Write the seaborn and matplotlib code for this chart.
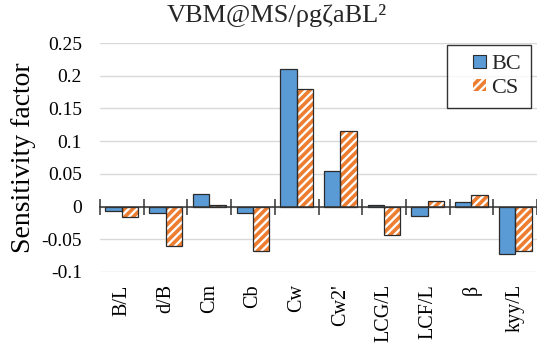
import matplotlib
matplotlib.use("Agg")
import matplotlib.pyplot as plt
import seaborn as sns
import pandas as pd
import numpy as np
from matplotlib.patches import Patch, Rectangle
from matplotlib.legend_handler import HandlerPatch
from matplotlib.ticker import FixedLocator

categories = ["B/L", "d/B", "Cm", "Cb", "Cw", "Cw2'", "LCG/L", "LCF/L", "β", "kyy/L"]
bc_values = [-0.007, -0.010, 0.019, -0.010, 0.210, 0.055, 0.003, -0.015, 0.007, -0.072]
cs_values = [-0.016, -0.060, 0.003, -0.068, 0.180, 0.115, -0.043, 0.009, 0.017, -0.068]
series = ["BC", "CS"]
y_ticks = [-0.1, -0.05, 0, 0.05, 0.1, 0.15, 0.2, 0.25]
y_ticklabels = ["-0.1", "-0.05", "0", "0.05", "0.1", "0.15", "0.2", "0.25"]

df = pd.DataFrame({
    "param": categories * 2,
    "series": [series[0]] * len(categories) + [series[1]] * len(categories),
    "value": bc_values + cs_values,
})

sns.set_theme(style="white")
plt.rcParams["font.family"] = ["Liberation Serif", "DejaVu Serif"]
plt.rcParams["hatch.linewidth"] = 2.6

BLUE = "#5B9BD5"
ORANGE = "#ED7D31"
EDGE = "#2b2b2b"
AXIS = "#333333"

fig = plt.figure(figsize=(5.37, 3.51), dpi=100)
ax = fig.add_axes([100 / 537, 1 - 272 / 351, 437 / 537, 229 / 351])

# fills: solid blue for BC, orange diagonal stripes on white for CS
sns.barplot(data=df, x="param", y="value", hue="series", order=categories,
            hue_order=series, palette=[BLUE, "white"], width=0.75,
            errorbar=None, ax=ax, legend=False, linewidth=0, saturation=1)
n = len(categories)
for i, p in enumerate(ax.patches[:2 * n]):
    if i >= n:
        p.set_facecolor("white")
        p.set_edgecolor(ORANGE)
        p.set_hatch("////")
        p.set_linewidth(0)

# outlines on top
sns.barplot(data=df, x="param", y="value", hue="series", order=categories,
            hue_order=series, palette=["none", "none"], width=0.75,
            errorbar=None, ax=ax, legend=False, saturation=1,
            edgecolor=EDGE, linewidth=0.9, fill=False)

ax.set_ylim(-0.1, 0.25)
ax.set_xlim(-0.5, n - 0.5)
ax.set_yticks(y_ticks)
ax.set_yticklabels(y_ticklabels)
ax.yaxis.grid(True, color="#d9d9d9", linewidth=1)
ax.xaxis.grid(False)
# gridlines under the bars, category axis over them
ax.yaxis.set_zorder(0.5)
ax.xaxis.set_zorder(6)
for s in ["top", "left", "right"]:
    ax.spines[s].set_visible(False)

# category axis runs along zero; boundary ticks cross it, names sit below the plot
ax.spines["bottom"].set_position(("data", 0))
ax.spines["bottom"].set_visible(True)
ax.spines["bottom"].set_color(AXIS)
ax.spines["bottom"].set_linewidth(1.1)
ax.spines["bottom"].set_zorder(6)
ax.xaxis.set_minor_locator(FixedLocator(np.arange(-0.5, n, 1.0)))
ax.tick_params(axis="x", which="minor", direction="inout", length=12, width=1.1,
               color=AXIS, bottom=True)
ax.tick_params(axis="x", which="major", length=0, pad=56, labelsize=14.5,
               colors="black", labelrotation=90)
ax.tick_params(axis="y", length=0, pad=13, labelsize=14, colors="black")
ax.set_xlabel("")
ax.set_ylabel("Sensitivity factor", fontsize=20, color="black", labelpad=4)


class SquareHandler(HandlerPatch):
    """Small square key placed at the right end of the handle box."""
    def create_artists(self, legend, orig_handle, xdescent, ydescent,
                       width, height, fontsize, trans):
        side = height
        r = Rectangle((-xdescent + width - side, -ydescent), side, side)
        self.update_prop(r, orig_handle, legend)
        r.set_transform(trans)
        return [r]


handles = [Patch(facecolor=BLUE, edgecolor=EDGE, linewidth=0.8),
           Patch(facecolor="white", edgecolor=ORANGE, hatch="////", linewidth=0)]
leg = ax.legend(handles, series, loc="upper right", bbox_to_anchor=(0.986, 0.991),
                borderaxespad=0, fontsize=16, frameon=True, fancybox=False,
                edgecolor="black", handlelength=1.3, handleheight=0.5,
                handletextpad=0.25, labelspacing=0.2, borderpad=0.45,
                handler_map={Patch: SquareHandler()})
leg.get_frame().set_linewidth(1)
leg.set_zorder(8)

fig.suptitle("VBM@MS/ρgζaBL²", x=0.515, y=0.99, fontsize=19, va="top")

fig.savefig("out.png", dpi=100, facecolor="white")
